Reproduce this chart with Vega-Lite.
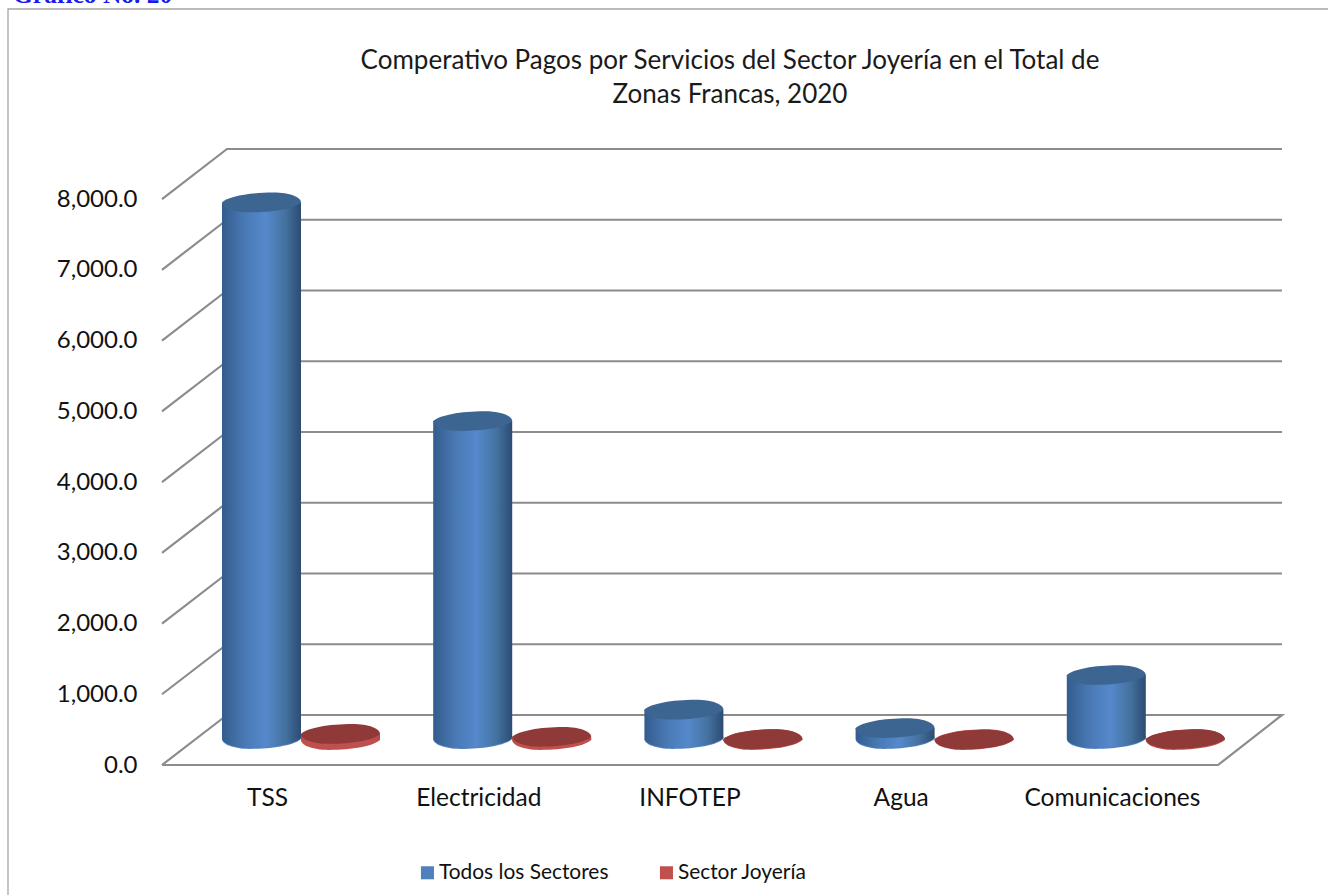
{
"$schema":"https://vega.github.io/schema/vega-lite/v6.json",
"width":1120,"height":616,
"autosize":{"type":"none"},
"padding":{"left":162,"top":149,"right":46,"bottom":130},
"background":"white",
"config":{"view":{"stroke":null},"font":"Lato"},
"title":{"text":["Comperativo Pagos por Servicios del Sector  Joyería en el Total de","Zonas Francas, 2020"],"font":"Lato","fontSize":26,"fontWeight":"normal","color":"#1a1a1a","anchor":"middle","offset":-125,"dx":8,"lineHeight":34},
"datasets":{
"servicios":[
{"servicio":"TSS","serie":"Todos los Sectores","valor":7570},
{"servicio":"Electricidad","serie":"Todos los Sectores","valor":4480},
{"servicio":"INFOTEP","serie":"Todos los Sectores","valor":400},
{"servicio":"Agua","serie":"Todos los Sectores","valor":140},
{"servicio":"Comunicaciones","serie":"Todos los Sectores","valor":890},
{"servicio":"TSS","serie":"Sector Joyería","valor":85},
{"servicio":"Electricidad","serie":"Sector Joyería","valor":45},
{"servicio":"INFOTEP","serie":"Sector Joyería","valor":12},
{"servicio":"Agua","serie":"Sector Joyería","valor":6},
{"servicio":"Comunicaciones","serie":"Sector Joyería","valor":14}
],
"reticula":[
{"linea":0,"orden":1,"px":0,"py":0},{"linea":0,"orden":2,"px":65,"py":707},{"linea":0,"orden":3,"px":1120,"py":707},{"linea":0,"orden":4,"px":1056,"py":0},{"linea":0,"orden":5,"px":0,"py":0},
{"linea":1000,"orden":1,"px":0,"py":1000},{"linea":1000,"orden":2,"px":65,"py":1707},{"linea":1000,"orden":3,"px":1120,"py":1707},
{"linea":2000,"orden":1,"px":0,"py":2000},{"linea":2000,"orden":2,"px":65,"py":2707},{"linea":2000,"orden":3,"px":1120,"py":2707},
{"linea":3000,"orden":1,"px":0,"py":3000},{"linea":3000,"orden":2,"px":65,"py":3707},{"linea":3000,"orden":3,"px":1120,"py":3707},
{"linea":4000,"orden":1,"px":0,"py":4000},{"linea":4000,"orden":2,"px":65,"py":4707},{"linea":4000,"orden":3,"px":1120,"py":4707},
{"linea":5000,"orden":1,"px":0,"py":5000},{"linea":5000,"orden":2,"px":65,"py":5707},{"linea":5000,"orden":3,"px":1120,"py":5707},
{"linea":6000,"orden":1,"px":0,"py":6000},{"linea":6000,"orden":2,"px":65,"py":6707},{"linea":6000,"orden":3,"px":1120,"py":6707},
{"linea":7000,"orden":1,"px":0,"py":7000},{"linea":7000,"orden":2,"px":65,"py":7707},{"linea":7000,"orden":3,"px":1120,"py":7707},
{"linea":8000,"orden":1,"px":0,"py":8000},{"linea":8000,"orden":2,"px":65,"py":8707},{"linea":8000,"orden":3,"px":1120,"py":8707}
],
"marco":[{"orden":1,"px":-154,"py":-1900},{"orden":2,"px":-154,"py":10686},{"orden":3,"px":1170,"py":10686}],
"rotulo":[{"px":-149,"py":10770,"texto":"Gráfico No. 20"}]
},
"resolve":{"scale":{"x":"independent"}},
"layer":[
{"layer":[
{"data":{"name":"marco"},"mark":{"type":"line","stroke":"#a6a6a6","strokeWidth":1.3,"clip":false},
"encoding":{"x":{"field":"px","type":"quantitative","scale":{"domain":[0,1120],"nice":false},"axis":null},"y":{"field":"py","type":"quantitative","scale":{"domain":[0,8707],"nice":false},"axis":{"values":[0,1000,2000,3000,4000,5000,6000,7000,8000],"format":",.1f","title":null,"domain":false,"ticks":false,"grid":false,"labelFont":"Lato","labelFontSize":24,"labelColor":"#111111","labelPadding":25}},"order":{"field":"orden"}}},
{"data":{"name":"reticula"},"mark":{"type":"line","stroke":"#8c8c8c","strokeWidth":2.2,"strokeJoin":"miter"},
"encoding":{"x":{"field":"px","type":"quantitative","scale":{"domain":[0,1120],"nice":false},"axis":null},"y":{"field":"py","type":"quantitative","scale":{"domain":[0,8707],"nice":false}},"detail":{"field":"linea"},"order":{"field":"orden"}}},
{"data":{"name":"rotulo"},"mark":{"type":"text","font":"Liberation Serif","fontWeight":"bold","fontSize":25.5,"color":"#1a1aee","align":"left","baseline":"alphabetic"},
"encoding":{"x":{"field":"px","type":"quantitative","scale":{"domain":[0,1120],"nice":false},"axis":null},"y":{"field":"py","type":"quantitative","scale":{"domain":[0,8707],"nice":false}},"text":{"field":"texto"}}}
]},
{"data":{"name":"servicios"},
"encoding":{
"x":{"field":"servicio","type":"nominal","sort":null,"scale":{"domain":["TSS","Electricidad","INFOTEP","Agua","Comunicaciones"],"range":[0,1056],"paddingInner":0,"paddingOuter":0},"axis":{"orient":"bottom","title":null,"labelAngle":0,"domain":false,"ticks":false,"labelFont":"Lato","labelFontSize":24.5,"labelColor":"#111111","labelPadding":21}},
"xOffset":{"field":"serie","type":"nominal","sort":null,"scale":{"domain":["Todos los Sectores","Sector Joyería"],"range":[60,218],"paddingInner":0,"paddingOuter":0}},
"y":{"field":"valor","type":"quantitative","scale":{"domain":[0,8707],"nice":false}}
},
"layer":[
{"mark":{"type":"point","filled":true,"opacity":1,"shape":"M -1 0 C -0.85 -0.15 -0.3 -0.25 0.3 -0.25 C 0.72 -0.25 1 -0.13 1 0 C 0.85 0.15 0.3 0.25 -0.3 0.25 C -0.72 0.25 -1 0.13 -1 0 Z","size":6241,"yOffset":-26},
"encoding":{"y":{"datum":0,"scale":{"domain":[0,8707],"nice":false}},"color":{"field":"serie","type":"nominal","sort":null,"scale":{"domain":["Todos los Sectores","Sector Joyería"],"range":["#4f81bd","#c0504d"]},"legend":{"title":null,"orient":"none","legendX":255,"legendY":713,"direction":"horizontal","symbolType":"square","symbolSize":170,"symbolOpacity":1,"labelFont":"Lato","labelFontSize":20.9,"labelColor":"#111111","labelLimit":300,"columnPadding":47,"labelOffset":1}}}},
{"transform":[{"filter":"datum.serie == 'Todos los Sectores'"}],"mark":{"type":"point","filled":true,"opacity":1,"shape":"M -1 0 C -0.85 -0.15 -0.3 -0.25 0.3 -0.25 C 0.72 -0.25 1 -0.13 1 0 C 0.85 0.15 0.3 0.25 -0.3 0.25 C -0.72 0.25 -1 0.13 -1 0 Z","size":6241,"yOffset":-27,"color":{"gradient":"linear","x1":0,"x2":1,"y1":0,"y2":0,"stops":[{"offset":0,"color":"#335c8d"},{"offset":0.3,"color":"#4a7ab6"},{"offset":0.55,"color":"#5589cc"},{"offset":0.8,"color":"#44729f"},{"offset":1,"color":"#2c4c72"}]}},"encoding":{"y":{"datum":0,"scale":{"domain":[0,8707],"nice":false}}}},
{"transform":[{"filter":"datum.serie == 'Todos los Sectores'"}],"mark":{"type":"bar","yOffset":-27,"y2Offset":-27,"color":{"gradient":"linear","x1":0,"x2":1,"y1":0,"y2":0,"stops":[{"offset":0,"color":"#335c8d"},{"offset":0.3,"color":"#4a7ab6"},{"offset":0.55,"color":"#5589cc"},{"offset":0.8,"color":"#44729f"},{"offset":1,"color":"#2c4c72"}]}},"encoding":{"y2":{"datum":0}}},
{"transform":[{"filter":"datum.serie == 'Todos los Sectores'"}],"mark":{"type":"point","filled":true,"opacity":1,"shape":"M -1 0 C -0.85 -0.15 -0.3 -0.25 0.3 -0.25 C 0.72 -0.25 1 -0.13 1 0 C 0.85 0.15 0.3 0.25 -0.3 0.25 C -0.72 0.25 -1 0.13 -1 0 Z","size":6241,"yOffset":-27,"color":"#3d6591"}},
{"transform":[{"filter":"datum.serie == 'Sector Joyería'"}],"mark":{"type":"point","filled":true,"opacity":1,"shape":"M -1 0 C -0.85 -0.15 -0.3 -0.25 0.3 -0.25 C 0.72 -0.25 1 -0.13 1 0 C 0.85 0.15 0.3 0.25 -0.3 0.25 C -0.72 0.25 -1 0.13 -1 0 Z","size":6241,"yOffset":-25,"color":"#c0504d"},"encoding":{"y":{"datum":0,"scale":{"domain":[0,8707],"nice":false}}}},
{"transform":[{"filter":"datum.serie == 'Sector Joyería'"}],"mark":{"type":"bar","yOffset":-25,"y2Offset":-25,"color":"#b94c49"},"encoding":{"y2":{"datum":0}}},
{"transform":[{"filter":"datum.serie == 'Sector Joyería'"}],"mark":{"type":"point","filled":true,"opacity":1,"shape":"M -1 0 C -0.85 -0.15 -0.3 -0.25 0.3 -0.25 C 0.72 -0.25 1 -0.13 1 0 C 0.85 0.15 0.3 0.25 -0.3 0.25 C -0.72 0.25 -1 0.13 -1 0 Z","size":6241,"yOffset":-25,"color":"#8f3a38"}}
]}
]
}
